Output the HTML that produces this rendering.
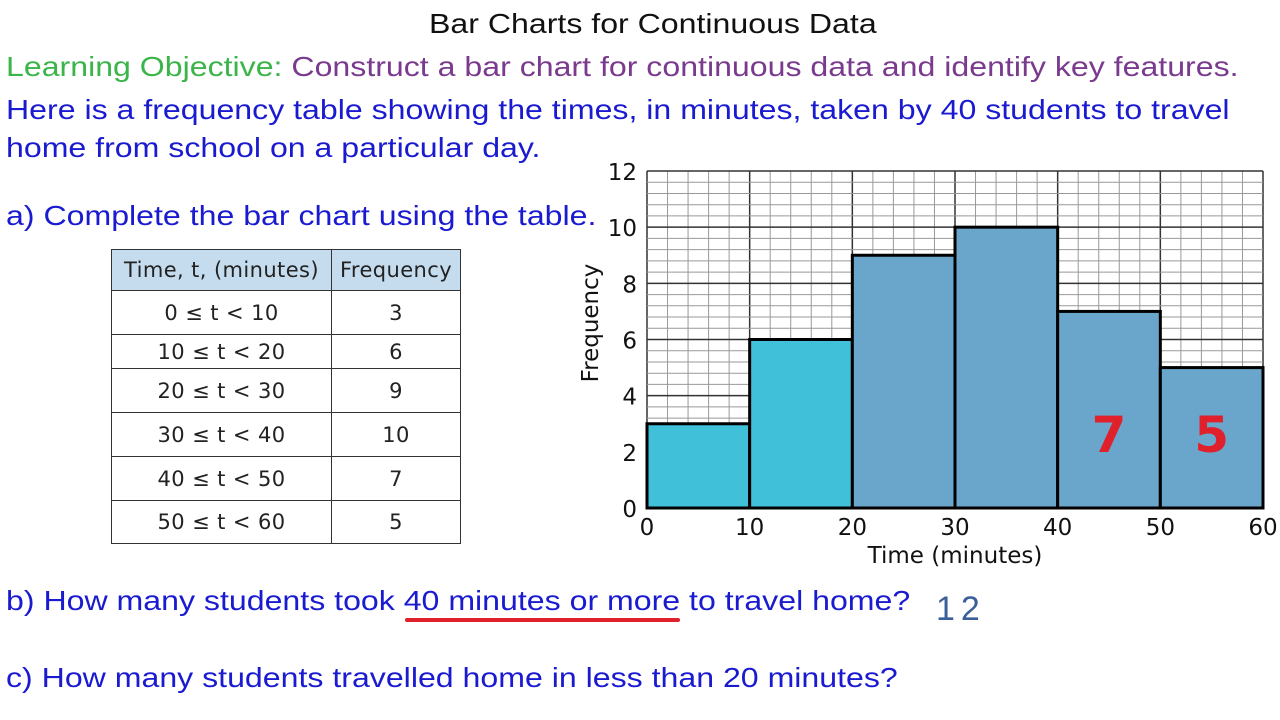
<!DOCTYPE html>
<html><head><meta charset="utf-8"><style>
body{margin:0;width:1280px;height:720px;background:#fff;position:relative;overflow:hidden;font-family:"Liberation Sans",sans-serif}
.t{position:absolute;white-space:nowrap;font-size:28px;color:#1a1ad0;transform:scaleX(1.146);transform-origin:0 0}
table{position:absolute;left:111px;top:249px;border-collapse:collapse;font-family:"DejaVu Sans","Liberation Sans",sans-serif;font-size:21px;letter-spacing:0.4px;color:#222}
td{border:1.5px solid #333;text-align:center;padding:0}
</style></head><body>
<div class="t" style="left:429px;top:8px;color:#111;font-size:28px">Bar Charts for Continuous Data</div>
<div class="t" style="left:6px;top:51px"><span style="color:#3bb54a">Learning Objective: </span><span style="color:#7a3a8e">Construct a bar chart for continuous data and identify key features.</span></div>
<div class="t" style="left:6px;top:94px">Here is a frequency table showing the times, in minutes, taken by 40 students to travel</div>
<div class="t" style="left:6px;top:132px">home from school on a particular day.</div>
<div class="t" style="left:6px;top:200px">a) Complete the bar chart using the table.</div>
<div class="t" style="left:6px;top:585px">b) How many students took 40 minutes or more to travel home?</div>
<div style="position:absolute;left:405px;top:618px;width:275px;height:4px;background:#e0202a;border-radius:2px"></div>
<div style="position:absolute;left:936px;top:590px;color:#3a5f9a;font-size:34px;letter-spacing:6px;font-family:'Liberation Sans',sans-serif">12</div>
<div class="t" style="left:6px;top:662px">c) How many students travelled home in less than 20 minutes?</div>
<table>
<tr style="background:#c5dcee;height:41px"><td style="width:219px">Time, t, (minutes)</td><td style="width:128px">Frequency</td></tr>
<tr style="height:44px"><td>0 ≤ t &lt; 10</td><td>3</td></tr>
<tr style="height:34px"><td>10 ≤ t &lt; 20</td><td>6</td></tr>
<tr style="height:44px"><td>20 ≤ t &lt; 30</td><td>9</td></tr>
<tr style="height:44px"><td>30 ≤ t &lt; 40</td><td>10</td></tr>
<tr style="height:44px"><td>40 ≤ t &lt; 50</td><td>7</td></tr>
<tr style="height:43px"><td>50 ≤ t &lt; 60</td><td>5</td></tr>
</table>
<svg id="chart" width="1280" height="720" style="position:absolute;left:0;top:0" font-family="DejaVu Sans, Liberation Sans, sans-serif"></svg>
<script>
const categories=[0,10,20,30,40,50];
const freqs=[3,6,9,10,7,5];
const colors=['#41c0d9','#41c0d9','#6aa5cc','#6aa5cc','#6aa5cc','#6aa5cc'];
const yTicks=[0,2,4,6,8,10,12];
const xTicks=[0,10,20,30,40,50,60];
const X0=647,X1=1263,Y0=508,Y1=171;
const sx=v=>X0+(v/60)*(X1-X0), sy=v=>Y0-(v/12)*(Y0-Y1);
const svg=document.getElementById('chart'),NS='http://www.w3.org/2000/svg';
function mk(t,a){const e=document.createElementNS(NS,t);for(const k in a)e.setAttribute(k,a[k]);svg.appendChild(e);return e;}
for(let m=0;m<=60;m+=2){const l=mk('line',{x1:sx(m),x2:sx(m),y1:Y1,y2:Y0,stroke:m%10?'#999':'#333','stroke-width':m%10?1:1.5});

}
for(let i=0;i<=30;i++){const v=i*0.4;const l=mk('line',{x1:X0,x2:X1,y1:sy(v),y2:sy(v),stroke:i%5?'#999':'#333','stroke-width':i%5?1:1.5});

}
categories.forEach((c,i)=>{const r=mk('rect',{x:sx(c),y:sy(freqs[i]),width:sx(c+10)-sx(c),height:Y0-sy(freqs[i]),fill:colors[i],stroke:'#000','stroke-width':3});

});
yTicks.forEach(v=>{const t=mk('text',{x:637,y:sy(v)+9,'text-anchor':'end','font-size':23,fill:'#111'});t.textContent=v;

});
xTicks.forEach(v=>{const t=mk('text',{x:sx(v),y:535,'text-anchor':'middle','font-size':23,fill:'#111'});t.textContent=v;

});
let t=mk('text',{x:955,y:563,'text-anchor':'middle','font-size':23,fill:'#111'});t.textContent='Time (minutes)';


t=mk('text',{x:598,y:323,'text-anchor':'middle','font-size':23,fill:'#111',transform:'rotate(-90 598 323)'});t.textContent='Frequency';


[[4,'7'],[5,'5']].forEach(([i,s])=>{const a=mk('text',{x:sx(categories[i]+5),y:452,'text-anchor':'middle','font-size':50,fill:'#e0202a','font-weight':'bold'});a.textContent=s;

});
</script>
</body></html>
